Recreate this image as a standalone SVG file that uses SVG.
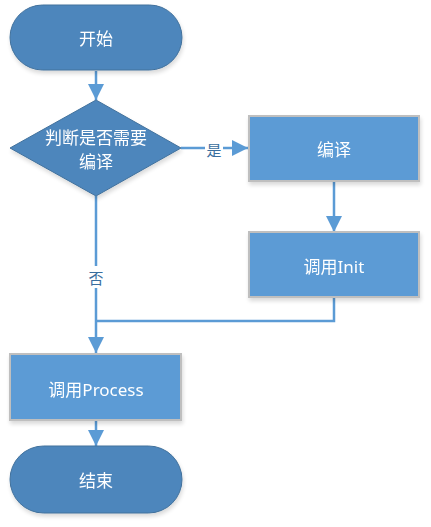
<svg xmlns="http://www.w3.org/2000/svg" width="431" height="527" viewBox="0 0 431 527">
<style>
.term{fill:#4E86BC;stroke:#41719C;stroke-width:1}
.box{fill:#5B9BD5;stroke:#BFBFBF;stroke-width:2}
.t{font-family:"Segoe UI","Noto Sans","Noto Sans CJK SC",sans-serif;font-size:17px;fill:#FFFFFF;text-anchor:middle;dominant-baseline:central}
.lbl{font-family:"Noto Sans CJK SC",sans-serif;font-size:15px;fill:#3A6E9E;text-anchor:middle;dominant-baseline:central}
.c{fill:none;stroke:#5B9BD5;stroke-width:2.5}
</style>
<defs>
<marker id="arr" viewBox="0 0 16 16" refX="16" refY="8" markerWidth="16" markerHeight="16" markerUnits="userSpaceOnUse" orient="auto"><path d="M0,0 L16,8 L0,16 Z" fill="#5B9BD5"/></marker>
<filter id="sh" x="-10%" y="-10%" width="130%" height="140%"><feGaussianBlur in="SourceAlpha" stdDeviation="2"/><feOffset dx="1" dy="3"/><feComponentTransfer><feFuncA type="linear" slope="0.15"/></feComponentTransfer><feMerge><feMergeNode/><feMergeNode in="SourceGraphic"/></feMerge></filter>
</defs>
<g id="connectors">
<line class="c" x1="96" y1="71" x2="96" y2="100" marker-end="url(#arr)"/>
<line class="c" x1="181" y1="148" x2="248" y2="148" marker-end="url(#arr)"/>
<line class="c" x1="334" y1="181" x2="334" y2="232" marker-end="url(#arr)"/>
<polyline class="c" points="334,297 334,321 96,321"/>
<line class="c" x1="96" y1="196" x2="96" y2="353" marker-end="url(#arr)"/>
<line class="c" x1="96" y1="420" x2="96" y2="446" marker-end="url(#arr)"/>
<rect x="205" y="140" width="18" height="18" fill="#FFFFFF"/>
<text class="lbl" x="214" y="149">是</text>
<rect x="86" y="266" width="20" height="22" fill="#FFFFFF"/>
<text class="lbl" x="96" y="277">否</text>
</g>
<g id="start" filter="url(#sh)">
<rect class="term" x="10" y="5" width="172" height="65" rx="32.5" ry="32.5"/>
<text class="t" x="96" y="38">开始</text>
</g>
<g id="decision" filter="url(#sh)">
<polygon class="term" points="96,100 181,148 96,196 10,148"/>
<text class="t" x="96" y="137">判断是否需要</text>
<text class="t" x="96" y="161">编译</text>
</g>
<g id="compile" filter="url(#sh)">
<rect class="box" x="249" y="116" width="170" height="65"/>
<text class="t" x="334" y="149">编译</text>
</g>
<g id="init" filter="url(#sh)">
<rect class="box" x="249" y="232" width="170" height="65"/>
<text class="t" x="334" y="266">调用Init</text>
</g>
<g id="process" filter="url(#sh)">
<rect class="box" x="10" y="354" width="171" height="66"/>
<text class="t" x="96" y="389">调用Process</text>
</g>
<g id="end" filter="url(#sh)">
<rect class="term" x="10" y="446" width="172" height="67" rx="33.5" ry="33.5"/>
<text class="t" x="96" y="480">结束</text>
</g>
</svg>
